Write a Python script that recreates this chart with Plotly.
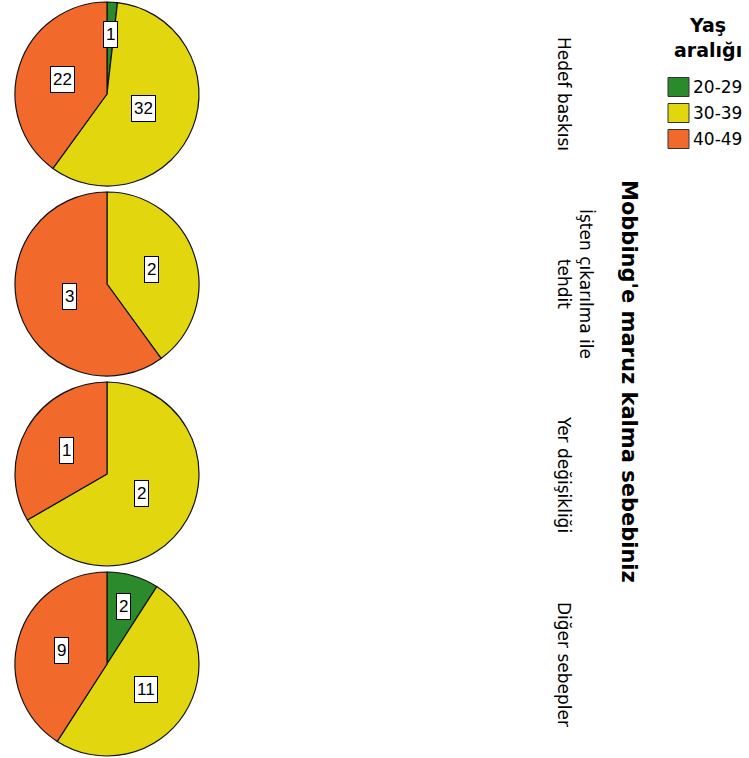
import plotly.graph_objects as go
import math

# ---- data ----
age_groups = ["20-29", "30-39", "40-49"]
reasons = ["Hedef baskısı", "İşten çıkarılma ile<br>tehdit", "Yer değişikliği", "Diğer sebepler"]
hedef_baskisi = [1, 32, 22]
isten_cikarilma = [0, 2, 3]
yer_degisikligi = [0, 2, 1]
diger_sebepler = [2, 11, 9]
series = [hedef_baskisi, isten_cikarilma, yer_degisikligi, diger_sebepler]
colors = ["#2B8A2B", "#E2D70F", "#F26A2B"]
title_text = "Mobbing'e maruz kalma sebebiniz"
legend_title = "Yaş<br>aralığı"

# ---- layout geometry (page pixels) ----
W, H = 749, 758
cx_px, R = 107, 92
cy_px = [94, 284, 474, 664]


def px_x(x):
    return min(max(x / W, 0), 1)


def px_y(y):
    return min(max(1 - y / H, 0), 1)


fig = go.Figure()
annotations = []
shapes = []
for i, (vals, cy) in enumerate(zip(series, cy_px)):
    fig.add_trace(go.Pie(
        labels=age_groups, values=vals, sort=False, direction="clockwise",
        rotation=0, textinfo="none", hoverinfo="label+value",
        marker=dict(colors=colors, line=dict(color="#111111", width=1.2)),
        domain=dict(x=[px_x(cx_px - R), px_x(cx_px + R)],
                    y=[px_y(cy + R), px_y(cy - R)]),
        showlegend=False,
    ))
    total = sum(vals)
    cum = 0
    for v in vals:
        if v > 0:
            mid = (cum + v / 2) / total * 2 * math.pi
            frac = v / total
            if frac < 0.15:
                rf = 0.65
            elif frac <= 0.52:
                rf = 0.51
            else:
                rf = 0.43
            px = cx_px + rf * R * math.sin(mid)
            py = cy - rf * R * math.cos(mid)
            annotations.append(dict(
                x=px_x(px), y=px_y(py), xref="paper", yref="paper",
                xanchor="center", yanchor="middle",
                text=str(v), showarrow=False, height=21,
                font=dict(family="Liberation Sans, Arial", size=17, color="#000"),
                bgcolor="#FFFFFF", bordercolor="#000000", borderwidth=1, borderpad=2,
            ))
        cum += v

# category labels (rotated)
label_x = [564, 575, 564, 564]
for name, cy, lx in zip(reasons, cy_px, label_x):
    annotations.append(dict(
        x=px_x(lx), y=px_y(cy), xref="paper", yref="paper",
        xanchor="center", yanchor="middle", text=name,
        showarrow=False, textangle=90,
        font=dict(family="DejaVu Sans", size=17, color="#000"),
    ))

# facet title
annotations.append(dict(
    x=px_x(629), y=px_y(381), xref="paper", yref="paper",
    xanchor="center", yanchor="middle",
    text="<b>" + title_text + "</b>", showarrow=False, textangle=90,
    font=dict(family="DejaVu Sans", size=21, color="#000"),
))

# legend (drawn manually to match swatch size / spacing)
annotations.append(dict(
    x=px_x(708), y=px_y(12), xref="paper", yref="paper", xanchor="center", yanchor="top",
    text="<b>" + legend_title + "</b>", showarrow=False,
    font=dict(family="DejaVu Sans", size=19, color="#000"),
))
for k, (g, c) in enumerate(zip(age_groups, colors)):
    yc = 87 + 26 * k
    shapes.append(dict(
        type="rect", xref="paper", yref="paper",
        x0=px_x(668), x1=px_x(689), y0=px_y(yc + 9.5), y1=px_y(yc - 9.5),
        fillcolor=c, line=dict(color="#333333", width=1),
    ))
    annotations.append(dict(
        x=px_x(691), y=px_y(yc), xref="paper", yref="paper", xanchor="left", yanchor="middle",
        text=g, showarrow=False,
        font=dict(family="DejaVu Sans", size=17, color="#000"),
    ))

fig.update_layout(
    width=W, height=H,
    margin=dict(l=0, r=0, t=0, b=0, autoexpand=False),
    paper_bgcolor="#FFFFFF", plot_bgcolor="#FFFFFF",
    annotations=annotations, shapes=shapes,
    showlegend=False,
)

fig.write_html(
    "out.html",
    config={"displayModeBar": False},
    post_script="document.body.style.margin='0px';document.body.style.overflow='hidden';",
)
